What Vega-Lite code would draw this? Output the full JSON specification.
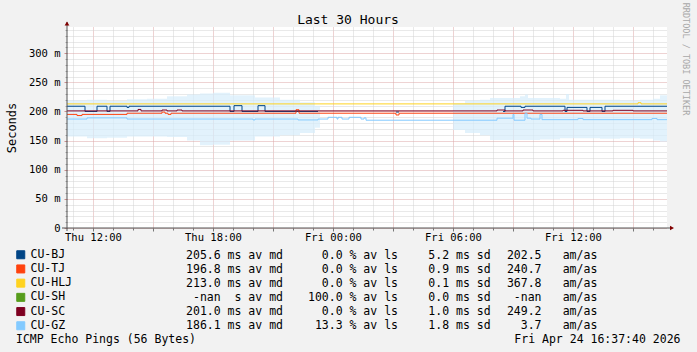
{
  "$schema": "https://vega.github.io/schema/vega-lite/v6.json",
  "width": 600,
  "height": 201,
  "autosize": "none",
  "padding": {"left": 67, "top": 27, "right": 30, "bottom": 124},
  "background": "#f2f2f2",
  "datasets": {
    "smoke": [
      {"t": "2026-04-23T10:42:00Z", "lo": 157, "hi": 219},
      {"t": "2026-04-23T11:42:00Z", "lo": 154, "hi": 220},
      {"t": "2026-04-23T12:42:00Z", "lo": 155, "hi": 218},
      {"t": "2026-04-23T13:42:00Z", "lo": 157, "hi": 221},
      {"t": "2026-04-23T14:42:00Z", "lo": 157, "hi": 222},
      {"t": "2026-04-23T15:42:00Z", "lo": 156, "hi": 226},
      {"t": "2026-04-23T16:42:00Z", "lo": 150, "hi": 229},
      {"t": "2026-04-23T17:21:00Z", "lo": 142, "hi": 231},
      {"t": "2026-04-23T18:00:00Z", "lo": 143, "hi": 232},
      {"t": "2026-04-23T18:51:00Z", "lo": 150, "hi": 228},
      {"t": "2026-04-23T20:06:00Z", "lo": 157, "hi": 224},
      {"t": "2026-04-23T21:21:00Z", "lo": 159, "hi": 220},
      {"t": "2026-04-23T22:21:00Z", "lo": 163, "hi": 216},
      {"t": "2026-04-23T23:06:00Z", "lo": 172, "hi": 210},
      {"t": "2026-04-23T23:21:00Z", "lo": 175, "hi": 205},
      {"t": "2026-04-23T23:30:00Z", "lo": null, "hi": null},
      {"t": "2026-04-24T06:00:00Z", "lo": 168, "hi": 214},
      {"t": "2026-04-24T06:36:00Z", "lo": 163, "hi": 219},
      {"t": "2026-04-24T07:21:00Z", "lo": 159, "hi": 220},
      {"t": "2026-04-24T07:51:00Z", "lo": 151, "hi": 223},
      {"t": "2026-04-24T09:21:00Z", "lo": 151, "hi": 226},
      {"t": "2026-04-24T09:36:00Z", "lo": 151, "hi": 229},
      {"t": "2026-04-24T09:45:00Z", "lo": 151, "hi": 223},
      {"t": "2026-04-24T10:21:00Z", "lo": 152, "hi": 223},
      {"t": "2026-04-24T11:21:00Z", "lo": 154, "hi": 222},
      {"t": "2026-04-24T11:39:00Z", "lo": 154, "hi": 230},
      {"t": "2026-04-24T11:48:00Z", "lo": 154, "hi": 220},
      {"t": "2026-04-24T13:21:00Z", "lo": 153, "hi": 220},
      {"t": "2026-04-24T14:21:00Z", "lo": 154, "hi": 219},
      {"t": "2026-04-24T15:21:00Z", "lo": 153, "hi": 220},
      {"t": "2026-04-24T16:00:00Z", "lo": 150, "hi": 222},
      {"t": "2026-04-24T16:21:00Z", "lo": 148, "hi": 228},
      {"t": "2026-04-24T16:42:00Z", "lo": 148, "hi": 228}
    ],
    "lines": [
      {"t": "2026-04-23T10:42:00Z", "series": "CU-BJ", "ms": 209},
      {"t": "2026-04-23T11:36:00Z", "series": "CU-BJ", "ms": 200},
      {"t": "2026-04-23T12:12:00Z", "series": "CU-BJ", "ms": 209},
      {"t": "2026-04-23T12:42:00Z", "series": "CU-BJ", "ms": 200},
      {"t": "2026-04-23T12:51:00Z", "series": "CU-BJ", "ms": 209},
      {"t": "2026-04-23T13:42:00Z", "series": "CU-BJ", "ms": 207},
      {"t": "2026-04-23T13:48:00Z", "series": "CU-BJ", "ms": 209},
      {"t": "2026-04-23T18:51:00Z", "series": "CU-BJ", "ms": 200},
      {"t": "2026-04-23T19:03:00Z", "series": "CU-BJ", "ms": 210},
      {"t": "2026-04-23T19:27:00Z", "series": "CU-BJ", "ms": 200},
      {"t": "2026-04-23T20:15:00Z", "series": "CU-BJ", "ms": 210},
      {"t": "2026-04-23T20:36:00Z", "series": "CU-BJ", "ms": 200},
      {"t": "2026-04-23T23:15:00Z", "series": "CU-BJ", "ms": 200},
      {"t": "2026-04-23T23:18:00Z", "series": "CU-BJ", "ms": null},
      {"t": "2026-04-24T03:09:00Z", "series": "CU-BJ", "ms": 199},
      {"t": "2026-04-24T03:18:00Z", "series": "CU-BJ", "ms": 199},
      {"t": "2026-04-24T03:21:00Z", "series": "CU-BJ", "ms": null},
      {"t": "2026-04-24T08:30:00Z", "series": "CU-BJ", "ms": 200},
      {"t": "2026-04-24T08:36:00Z", "series": "CU-BJ", "ms": 209},
      {"t": "2026-04-24T09:24:00Z", "series": "CU-BJ", "ms": 207},
      {"t": "2026-04-24T09:36:00Z", "series": "CU-BJ", "ms": 209},
      {"t": "2026-04-24T11:36:00Z", "series": "CU-BJ", "ms": 200},
      {"t": "2026-04-24T11:42:00Z", "series": "CU-BJ", "ms": 207},
      {"t": "2026-04-24T12:42:00Z", "series": "CU-BJ", "ms": 200},
      {"t": "2026-04-24T12:51:00Z", "series": "CU-BJ", "ms": 207},
      {"t": "2026-04-24T13:27:00Z", "series": "CU-BJ", "ms": 200},
      {"t": "2026-04-24T13:36:00Z", "series": "CU-BJ", "ms": 209},
      {"t": "2026-04-24T16:42:00Z", "series": "CU-BJ", "ms": 209},

      {"t": "2026-04-23T10:42:00Z", "series": "CU-TJ", "ms": 195},
      {"t": "2026-04-23T11:12:00Z", "series": "CU-TJ", "ms": 193},
      {"t": "2026-04-23T11:27:00Z", "series": "CU-TJ", "ms": 195},
      {"t": "2026-04-23T13:42:00Z", "series": "CU-TJ", "ms": 197},
      {"t": "2026-04-23T15:27:00Z", "series": "CU-TJ", "ms": 199},
      {"t": "2026-04-23T15:36:00Z", "series": "CU-TJ", "ms": 197},
      {"t": "2026-04-23T15:45:00Z", "series": "CU-TJ", "ms": 195},
      {"t": "2026-04-23T15:54:00Z", "series": "CU-TJ", "ms": 197},
      {"t": "2026-04-23T22:09:00Z", "series": "CU-TJ", "ms": 203},
      {"t": "2026-04-23T22:18:00Z", "series": "CU-TJ", "ms": 197},
      {"t": "2026-04-24T03:09:00Z", "series": "CU-TJ", "ms": 194},
      {"t": "2026-04-24T03:18:00Z", "series": "CU-TJ", "ms": 197},
      {"t": "2026-04-24T16:42:00Z", "series": "CU-TJ", "ms": 197},

      {"t": "2026-04-23T10:42:00Z", "series": "CU-HLJ", "ms": 213},
      {"t": "2026-04-24T15:15:00Z", "series": "CU-HLJ", "ms": 215},
      {"t": "2026-04-24T15:24:00Z", "series": "CU-HLJ", "ms": 213},
      {"t": "2026-04-24T16:42:00Z", "series": "CU-HLJ", "ms": 213},

      {"t": "2026-04-23T10:42:00Z", "series": "CU-SC", "ms": 201},
      {"t": "2026-04-23T14:15:00Z", "series": "CU-SC", "ms": 203.5},
      {"t": "2026-04-23T14:24:00Z", "series": "CU-SC", "ms": 201},
      {"t": "2026-04-23T15:27:00Z", "series": "CU-SC", "ms": 202.5},
      {"t": "2026-04-23T15:42:00Z", "series": "CU-SC", "ms": 201},
      {"t": "2026-04-23T16:12:00Z", "series": "CU-SC", "ms": 202.5},
      {"t": "2026-04-23T16:27:00Z", "series": "CU-SC", "ms": 201},
      {"t": "2026-04-24T08:12:00Z", "series": "CU-SC", "ms": 202.5},
      {"t": "2026-04-24T08:36:00Z", "series": "CU-SC", "ms": 201},
      {"t": "2026-04-24T09:30:00Z", "series": "CU-SC", "ms": 202.5},
      {"t": "2026-04-24T10:00:00Z", "series": "CU-SC", "ms": 201},
      {"t": "2026-04-24T11:30:00Z", "series": "CU-SC", "ms": 202},
      {"t": "2026-04-24T12:30:00Z", "series": "CU-SC", "ms": 201},
      {"t": "2026-04-24T14:00:00Z", "series": "CU-SC", "ms": 202},
      {"t": "2026-04-24T15:00:00Z", "series": "CU-SC", "ms": 201},
      {"t": "2026-04-24T16:42:00Z", "series": "CU-SC", "ms": 201},

      {"t": "2026-04-23T10:42:00Z", "series": "CU-GZ", "ms": 187},
      {"t": "2026-04-23T11:42:00Z", "series": "CU-GZ", "ms": 189},
      {"t": "2026-04-23T13:42:00Z", "series": "CU-GZ", "ms": 187},
      {"t": "2026-04-23T20:00:00Z", "series": "CU-GZ", "ms": 185.5},
      {"t": "2026-04-23T20:06:00Z", "series": "CU-GZ", "ms": 187},
      {"t": "2026-04-23T22:15:00Z", "series": "CU-GZ", "ms": 185.5},
      {"t": "2026-04-23T23:15:00Z", "series": "CU-GZ", "ms": 187},
      {"t": "2026-04-23T23:45:00Z", "series": "CU-GZ", "ms": 190},
      {"t": "2026-04-24T00:12:00Z", "series": "CU-GZ", "ms": 187},
      {"t": "2026-04-24T00:15:00Z", "series": "CU-GZ", "ms": 190},
      {"t": "2026-04-24T00:27:00Z", "series": "CU-GZ", "ms": 187},
      {"t": "2026-04-24T00:48:00Z", "series": "CU-GZ", "ms": 190},
      {"t": "2026-04-24T01:24:00Z", "series": "CU-GZ", "ms": 187},
      {"t": "2026-04-24T01:33:00Z", "series": "CU-GZ", "ms": 189},
      {"t": "2026-04-24T01:39:00Z", "series": "CU-GZ", "ms": 185},
      {"t": "2026-04-24T08:12:00Z", "series": "CU-GZ", "ms": 188.5},
      {"t": "2026-04-24T09:00:00Z", "series": "CU-GZ", "ms": 195},
      {"t": "2026-04-24T09:03:00Z", "series": "CU-GZ", "ms": 185},
      {"t": "2026-04-24T09:36:00Z", "series": "CU-GZ", "ms": 197},
      {"t": "2026-04-24T09:42:00Z", "series": "CU-GZ", "ms": 188.5},
      {"t": "2026-04-24T09:54:00Z", "series": "CU-GZ", "ms": 187},
      {"t": "2026-04-24T10:21:00Z", "series": "CU-GZ", "ms": 195},
      {"t": "2026-04-24T10:27:00Z", "series": "CU-GZ", "ms": 186},
      {"t": "2026-04-24T12:15:00Z", "series": "CU-GZ", "ms": 188},
      {"t": "2026-04-24T12:30:00Z", "series": "CU-GZ", "ms": 186},
      {"t": "2026-04-24T15:57:00Z", "series": "CU-GZ", "ms": 188},
      {"t": "2026-04-24T16:12:00Z", "series": "CU-GZ", "ms": 186},
      {"t": "2026-04-24T16:42:00Z", "series": "CU-GZ", "ms": 186}
    ],
    "stats": [
      {
        "title": "Last 30 Hours",
        "avg": ["205.6 ms av md", "196.8 ms av md", "213.0 ms av md", "-nan\u00a0 s av md", "201.0 ms av md", "186.1 ms av md"],
        "loss": ["0.0 % av ls", "0.0 % av ls", "0.0 % av ls", "100.0 % av ls", "0.0 % av ls", "13.3 % av ls"],
        "sd": ["5.2 ms sd", "0.9 ms sd", "0.1 ms sd", "0.0 ms sd", "1.0 ms sd", "1.8 ms sd"],
        "am": ["202.5", "240.7", "367.8", "-nan", "249.2", "3.7"],
        "unit": ["am/as", "am/as", "am/as", "am/as", "am/as", "am/as"],
        "left": "ICMP Echo Pings (56 Bytes)",
        "right": "Fri Apr 24 16:37:40 2026",
        "mark": "RRDTOOL / TOBI OETIKER"
      }
    ]
  },
  "layer": [
    {
      "data": {"name": "smoke"},
      "mark": {"type": "area", "interpolate": "step-after", "color": "#d6ecfb", "opacity": 0.7, "invalid": "break-paths-show-domains"},
      "encoding": {
        "x": {"field": "t", "type": "temporal",
          "scale": {"type": "utc", "domain": [1776940920000, 1777048920000], "nice": false},
          "axis": {"orient": "bottom",
            "values": [1776942000000, 1776945600000, 1776949200000, 1776952800000, 1776956400000, 1776960000000, 1776963600000, 1776967200000, 1776970800000, 1776974400000, 1776978000000, 1776981600000, 1776985200000, 1776988800000, 1776992400000, 1776996000000, 1776999600000, 1777003200000, 1777006800000, 1777010400000, 1777014000000, 1777017600000, 1777021200000, 1777024800000, 1777028400000, 1777032000000, 1777035600000, 1777039200000, 1777042800000, 1777046400000],
            "grid": true,
            "gridColor": {"condition": {"test": "utchours(datum.value) % 3 == 0", "value": "#dca6a6"}, "value": "#d2d2d2"},
            "gridDash": [1, 1],
            "ticks": true,
            "tickSize": {"condition": {"test": "utchours(datum.value) % 3 == 0", "value": 3}, "value": 2},
            "tickColor": "#777",
            "labelExpr": "utchours(datum.value) % 6 == 0 ? utcFormat(datum.value, '%a %H:%M') : ''",
            "labelPadding": 1, "domain": false, "title": null}},
        "y": {"field": "hi", "type": "quantitative",
          "scale": {"domain": [0, 345], "nice": false, "zero": false},
          "axis": {"orient": "left", "values": [0, 10, 20, 30, 40, 50, 60, 70, 80, 90, 100, 110, 120, 130, 140, 150, 160, 170, 180, 190, 200, 210, 220, 230, 240, 250, 260, 270, 280, 290, 300, 310, 320, 330, 340],
            "grid": true,
            "gridColor": {"condition": {"test": "datum.value % 50 == 0", "value": "#dca6a6"}, "value": "#d2d2d2"},
            "gridDash": [1, 1],
            "ticks": true,
            "tickSize": {"condition": {"test": "datum.value % 50 == 0", "value": 3}, "value": 2},
            "tickColor": {"condition": {"test": "datum.value % 50 == 0", "value": "#c98e8e"}, "value": "#aaaaaa"},
            "labelExpr": "datum.value % 50 == 0 ? (datum.value == 0 ? '0' : datum.value + ' m') : ''",
            "labelPadding": 4, "domain": false,
            "title": "Seconds", "titleFontSize": 12, "titleX": -56, "titleY": 100.5, "titleAngle": -90, "titleAlign": "center", "titleBaseline": "middle"}},
        "y2": {"field": "lo"}
      }
    },
    {
      "data": {"name": "lines"},
      "mark": {"type": "line", "interpolate": "step-after", "strokeWidth": 1, "invalid": "break-paths-show-domains"},
      "encoding": {
        "x": {"field": "t", "type": "temporal",
          "scale": {"type": "utc", "domain": [1776940920000, 1777048920000], "nice": false},
          "axis": {"orient": "bottom",
            "values": [1776942000000, 1776945600000, 1776949200000, 1776952800000, 1776956400000, 1776960000000, 1776963600000, 1776967200000, 1776970800000, 1776974400000, 1776978000000, 1776981600000, 1776985200000, 1776988800000, 1776992400000, 1776996000000, 1776999600000, 1777003200000, 1777006800000, 1777010400000, 1777014000000, 1777017600000, 1777021200000, 1777024800000, 1777028400000, 1777032000000, 1777035600000, 1777039200000, 1777042800000, 1777046400000],
            "grid": true,
            "gridColor": {"condition": {"test": "utchours(datum.value) % 3 == 0", "value": "#dca6a6"}, "value": "#d2d2d2"},
            "gridDash": [1, 1],
            "ticks": true,
            "tickSize": {"condition": {"test": "utchours(datum.value) % 3 == 0", "value": 3}, "value": 2},
            "tickColor": "#777",
            "labelExpr": "utchours(datum.value) % 6 == 0 ? utcFormat(datum.value, '%a %H:%M') : ''",
            "labelPadding": 1, "domain": false, "title": null}},
        "y": {"field": "ms", "type": "quantitative",
          "scale": {"domain": [0, 345], "nice": false, "zero": false},
          "axis": {"orient": "left", "values": [0, 10, 20, 30, 40, 50, 60, 70, 80, 90, 100, 110, 120, 130, 140, 150, 160, 170, 180, 190, 200, 210, 220, 230, 240, 250, 260, 270, 280, 290, 300, 310, 320, 330, 340],
            "grid": true,
            "gridColor": {"condition": {"test": "datum.value % 50 == 0", "value": "#dca6a6"}, "value": "#d2d2d2"},
            "gridDash": [1, 1],
            "ticks": true,
            "tickSize": {"condition": {"test": "datum.value % 50 == 0", "value": 3}, "value": 2},
            "tickColor": {"condition": {"test": "datum.value % 50 == 0", "value": "#c98e8e"}, "value": "#aaaaaa"},
            "labelExpr": "datum.value % 50 == 0 ? (datum.value == 0 ? '0' : datum.value + ' m') : ''",
            "labelPadding": 4, "domain": false,
            "title": "Seconds", "titleFontSize": 12, "titleX": -56, "titleY": 100.5, "titleAngle": -90, "titleAlign": "center", "titleBaseline": "middle"}},
        "color": {"field": "series", "type": "nominal",
          "scale": {"domain": ["CU-BJ", "CU-TJ", "CU-HLJ", "CU-SH", "CU-SC", "CU-GZ"], "range": ["#004586", "#ff420e", "#ffd320", "#579d1c", "#7e0021", "#83caff"]},
          "legend": {"orient": "none", "legendX": -52, "legendY": 222, "direction": "vertical", "title": null,
            "symbolType": "square", "symbolSize": 64, "symbolStrokeWidth": 1, "symbolOpacity": 1,
            "labelFont": "DejaVu Sans Mono", "labelFontSize": 11.5, "labelColor": "#000", "labelOffset": 4, "labelLimit": 0,
            "rowPadding": 1.2, "padding": 0,
            "encode": {"symbols": {"update": {"fill": {"scale": "color", "field": "value"}, "stroke": {"value": "#000"}, "strokeWidth": {"value": 1}, "opacity": {"value": 1}, "fillOpacity": {"value": 1}}}}}}
      }
    },
    {
      "data": {"values": [{}]},
      "mark": {"type": "rule", "color": "#555", "strokeWidth": 1},
      "encoding": {"x": {"value": 0}, "y": {"value": -5}, "y2": {"value": 204}}
    },
    {
      "data": {"values": [{}]},
      "mark": {"type": "rule", "color": "#555", "strokeWidth": 1},
      "encoding": {"x": {"value": -5}, "x2": {"value": 603}, "y": {"value": 201}}
    },
    {
      "data": {"values": [{}]},
      "mark": {"type": "point", "shape": "triangle-up", "filled": true, "color": "#800000", "size": 22, "opacity": 1},
      "encoding": {"x": {"value": 0}, "y": {"value": -3.5}}
    },
    {
      "data": {"values": [{}]},
      "mark": {"type": "point", "shape": "triangle-right", "filled": true, "color": "#800000", "size": 22, "opacity": 1},
      "encoding": {"x": {"value": 605}, "y": {"value": 201}}
    },
    {
      "data": {"name": "stats"},
      "mark": {"type": "text", "angle": 90, "align": "center", "baseline": "middle", "font": "DejaVu Sans Mono", "fontSize": 8.5, "color": "#a8a8a8"},
      "encoding": {"x": {"value": 619}, "y": {"value": 32}, "text": {"field": "mark"}}
    },
    {
      "data": {"name": "stats"},
      "mark": {"type": "text", "align": "center", "baseline": "middle", "font": "DejaVu Sans Mono", "fontSize": 13, "color": "#000"},
      "encoding": {"x": {"value": 281}, "y": {"value": -7.5}, "text": {"field": "title"}}
    },
    {
      "data": {"name": "stats"},
      "mark": {"type": "text", "align": "right", "baseline": "alphabetic", "lineHeight": 14, "font": "DejaVu Sans Mono", "fontSize": 11.5, "color": "#000"},
      "encoding": {"x": {"value": 216}, "y": {"value": 231.9}, "text": {"field": "avg"}}
    },
    {
      "data": {"name": "stats"},
      "mark": {"type": "text", "align": "right", "baseline": "alphabetic", "lineHeight": 14, "font": "DejaVu Sans Mono", "fontSize": 11.5, "color": "#000"},
      "encoding": {"x": {"value": 331}, "y": {"value": 231.9}, "text": {"field": "loss"}}
    },
    {
      "data": {"name": "stats"},
      "mark": {"type": "text", "align": "right", "baseline": "alphabetic", "lineHeight": 14, "font": "DejaVu Sans Mono", "fontSize": 11.5, "color": "#000"},
      "encoding": {"x": {"value": 423.6}, "y": {"value": 231.9}, "text": {"field": "sd"}}
    },
    {
      "data": {"name": "stats"},
      "mark": {"type": "text", "align": "right", "baseline": "alphabetic", "lineHeight": 14, "font": "DejaVu Sans Mono", "fontSize": 11.5, "color": "#000"},
      "encoding": {"x": {"value": 474.5}, "y": {"value": 231.9}, "text": {"field": "am"}}
    },
    {
      "data": {"name": "stats"},
      "mark": {"type": "text", "align": "left", "baseline": "alphabetic", "lineHeight": 14, "font": "DejaVu Sans Mono", "fontSize": 11.5, "color": "#000"},
      "encoding": {"x": {"value": 495.7}, "y": {"value": 231.9}, "text": {"field": "unit"}}
    },
    {
      "data": {"name": "stats"},
      "mark": {"type": "text", "align": "left", "baseline": "alphabetic", "font": "DejaVu Sans Mono", "fontSize": 11.5, "color": "#000"},
      "encoding": {"x": {"value": -51}, "y": {"value": 315.5}, "text": {"field": "left"}}
    },
    {
      "data": {"name": "stats"},
      "mark": {"type": "text", "align": "right", "baseline": "alphabetic", "font": "DejaVu Sans Mono", "fontSize": 11.5, "color": "#000"},
      "encoding": {"x": {"value": 613.5}, "y": {"value": 315.5}, "text": {"field": "right"}}
    }
  ],
  "config": {
    "view": {"fill": "#ffffff", "stroke": null},
    "axis": {"labelFont": "DejaVu Sans Mono", "labelFontSize": 10.5, "labelColor": "#000", "titleFont": "DejaVu Sans Mono", "titleFontWeight": "normal", "titleColor": "#000", "domain": false, "labelFlush": false, "labelOverlap": false, "labelBound": false}
  }
}
